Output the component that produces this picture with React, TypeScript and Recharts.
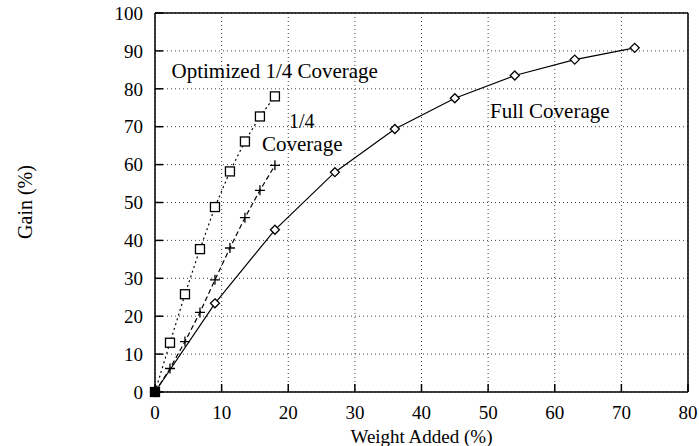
import React from 'react';
import { CartesianGrid, Line, LineChart, XAxis, YAxis } from 'recharts';

// values
const fullWeight = [0, 9, 18, 27, 36, 45, 54, 63, 72];
const fullGain = [0, 23.4, 42.8, 58, 69.4, 77.5, 83.5, 87.7, 90.8];

const quarterWeight = [0, 2.25, 4.5, 6.75, 9, 11.25, 13.5, 15.75, 18];
const quarterGain = [0, 6.2, 13.3, 21, 29.6, 38, 46, 53.2, 59.8];
const optimizedGain = [0, 13, 25.8, 37.7, 48.8, 58.2, 66.1, 72.7, 78];

const xTicks = [0, 10, 20, 30, 40, 50, 60, 70, 80];
const yTicks = [0, 10, 20, 30, 40, 50, 60, 70, 80, 90, 100];

const W = 699;
const H = 446;
const FONT = '"Liberation Serif", "Times New Roman", serif';

const toPoints = (xs: number[], ys: number[]) => xs.map((x, i) => ({ x, y: ys[i] }));

const fullData = toPoints(fullWeight, fullGain);
const quarterData = toPoints(quarterWeight, quarterGain);
const optimizedData = toPoints(quarterWeight, optimizedGain);

type DotProps = { cx?: number; cy?: number; index?: number };

const DiamondDot = ({ cx, cy, index }: DotProps) => {
  if (cx == null || cy == null) return null;
  const r = 4.5;
  return (
    <path
      key={`d${index}`}
      d={`M${cx},${cy - r}L${cx + r},${cy}L${cx},${cy + r}L${cx - r},${cy}Z`}
      fill="#fff"
      stroke="#000"
      strokeWidth={1.3}
    />
  );
};

const PlusDot = ({ cx, cy, index }: DotProps) => {
  if (cx == null || cy == null) return null;
  const r = 5;
  return (
    <path
      key={`p${index}`}
      d={`M${cx - r},${cy}L${cx + r},${cy}M${cx},${cy - r}L${cx},${cy + r}`}
      stroke="#000"
      strokeWidth={1.3}
      fill="none"
    />
  );
};

const SquareDot = ({ cx, cy, index }: DotProps) => {
  if (cx == null || cy == null) return null;
  const r = 4.5;
  return (
    <rect
      key={`s${index}`}
      x={cx - r}
      y={cy - r}
      width={2 * r}
      height={2 * r}
      fill={index === 0 ? '#000' : '#fff'}
      stroke="#000"
      strokeWidth={1.3}
    />
  );
};

const axisStroke = { stroke: '#000', strokeWidth: 1.5 };
const tickFont = { fill: '#000', fontSize: 19, fontFamily: FONT };

export default function App() {
  return (
    <div style={{ position: 'absolute', left: 0, top: 0, width: W, height: H, background: '#fff' }}>
      <LineChart width={W} height={H} margin={{ top: 12, right: 10, bottom: 0, left: 0 }}>
        <CartesianGrid
          xAxisId="bottom"
          yAxisId="left"
          stroke="#444"
          strokeDasharray="1 3"
          strokeWidth={1}
        />
        <XAxis
          xAxisId="bottom"
          orientation="bottom"
          type="number"
          dataKey="x"
          domain={[0, 80]}
          ticks={xTicks}
          height={54}
          axisLine={axisStroke}
          tickLine={axisStroke}
          tickSize={-8}
          tickMargin={22}
          tick={tickFont}
          interval={0}
        />
        <XAxis
          xAxisId="top"
          orientation="top"
          type="number"
          dataKey="x"
          domain={[0, 80]}
          ticks={xTicks}
          height={1}
          axisLine={axisStroke}
          tickLine={axisStroke}
          tickSize={-8}
          tick={false}
          interval={0}
        />
        <YAxis
          yAxisId="left"
          orientation="left"
          type="number"
          domain={[0, 100]}
          ticks={yTicks}
          width={155}
          axisLine={axisStroke}
          tickLine={axisStroke}
          tickSize={-8}
          tickMargin={20}
          tick={tickFont}
          interval={0}
        />
        <YAxis
          yAxisId="right"
          orientation="right"
          type="number"
          domain={[0, 100]}
          ticks={yTicks}
          width={1}
          axisLine={axisStroke}
          tickLine={axisStroke}
          tickSize={-8}
          tick={false}
          interval={0}
        />
        <Line
          xAxisId="bottom"
          yAxisId="left"
          data={fullData}
          dataKey="y"
          stroke="#000"
          strokeWidth={1.2}
          dot={DiamondDot}
          activeDot={false}
          isAnimationActive={false}
        />
        <Line
          xAxisId="bottom"
          yAxisId="left"
          data={quarterData}
          dataKey="y"
          stroke="#000"
          strokeWidth={1.2}
          strokeDasharray="5 3"
          dot={PlusDot}
          activeDot={false}
          isAnimationActive={false}
        />
        <Line
          xAxisId="bottom"
          yAxisId="left"
          data={optimizedData}
          dataKey="y"
          stroke="#000"
          strokeWidth={1.2}
          strokeDasharray="2 3"
          dot={SquareDot}
          activeDot={false}
          isAnimationActive={false}
        />
      </LineChart>
      <svg
        width={W}
        height={H}
        style={{ position: 'absolute', left: 0, top: 0, pointerEvents: 'none' }}
        fontFamily={FONT}
        fill="#000"
      >
        <text x={171.5} y={77.5} fontSize={21}>Optimized 1/4 Coverage</text>
        <text x={289} y={128} fontSize={20}>1/4</text>
        <text x={262} y={151} fontSize={21}>Coverage</text>
        <text x={490} y={118} fontSize={21}>Full Coverage</text>
        <text x={421.5} y={443} fontSize={19} textAnchor="middle">Weight Added (%)</text>
        <text x={32} y={202} fontSize={20} textAnchor="middle" transform="rotate(-90 32 202)">
          Gain (%)
        </text>
      </svg>
    </div>
  );
}
